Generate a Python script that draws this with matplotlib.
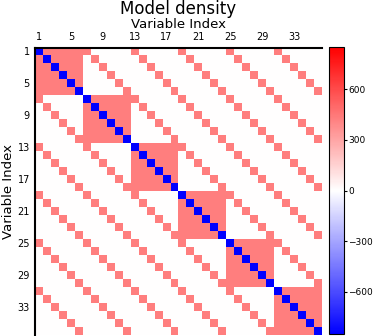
import numpy as np
import matplotlib
matplotlib.use("Agg")
import matplotlib.pyplot as plt

# model structure: 6 groups of 6 variables
n_groups = 6
group_size = 6
diag_value = -850.0     # self terms (blue)
within_value = 425.0    # coupling inside a group
cross_value = 425.0     # coupling between matching members of different groups

tick_idx = [0, 4, 8, 12, 16, 20, 24, 28, 32]
tick_labels = ["1", "5", "9", "13", "17", "21", "25", "29", "33"]
cbar_ticks = [600, 300, 0, -300, -600]
cbar_labels = ["600", "300", "0", "\u2212300", "\u2212600"]

n = n_groups * group_size
M = np.zeros((n, n))
for i in range(n):
    for j in range(n):
        if i == j:
            M[i, j] = diag_value
        elif i // group_size == j // group_size:
            M[i, j] = within_value
        elif i % group_size == j % group_size:
            M[i, j] = cross_value

vmax = np.abs(M).max()

W, H = 374, 336
fig = plt.figure(figsize=(W / 100, H / 100), dpi=100)
ax = fig.add_axes([35 / W, 1 / H, 287 / W, 287.5 / H])
im = ax.imshow(M, cmap="bwr", vmin=-vmax, vmax=vmax, interpolation="nearest",
               aspect="auto")

ax.xaxis.tick_top()
ax.xaxis.set_label_position("top")
ax.set_xticks(tick_idx)
ax.set_xticklabels(tick_labels)
ax.set_yticks(tick_idx)
ax.set_yticklabels(tick_labels)
ax.tick_params(length=0, labelsize=7, pad=3.7)
ax.set_xlabel("Variable Index", fontsize=9.5, labelpad=3)
ax.set_ylabel("Variable Index", fontsize=9.5)
ax.yaxis.set_label_coords(-20 / 287, 0.5)
for s in ["right", "bottom"]:
    ax.spines[s].set_visible(False)
for s in ["left", "top"]:
    ax.spines[s].set_linewidth(1.5)

fig.text(178.5 / W, 1 - 13.5 / H, "Model density", fontsize=12,
         ha="center", va="baseline")

cax = fig.add_axes([329 / W, 2 / H, 15 / W, 287 / H])
cb = fig.colorbar(im, cax=cax)
cb.set_ticks(cbar_ticks)
cb.set_ticklabels(cbar_labels)
cax.tick_params(labelsize=6.5, length=2, pad=1)

fig.savefig("out.png", dpi=100)
